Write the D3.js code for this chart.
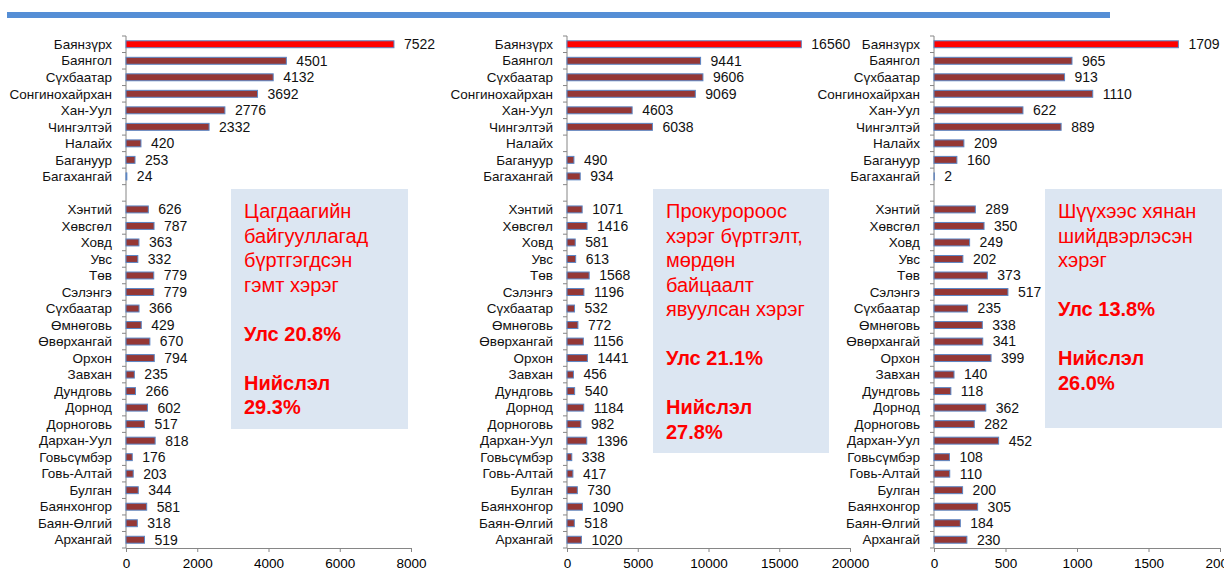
<!DOCTYPE html>
<html>
<head>
<meta charset="utf-8">
<script src="https://cdn.jsdelivr.net/npm/d3@7"></script>
<style>
  body { margin: 0; background: #fff; }
  svg { display: block; font-family: "Liberation Sans", Arial, sans-serif; }
</style>
</head>
<body>
<svg id="chart" width="1224" height="576"></svg>
<script>
// districts of the capital, a blank separator row, then the aimags
const categories = ["Баянзүрх", "Баянгол", "Сүхбаатар", "Сонгинохайрхан", "Хан-Уул", "Чингэлтэй",
  "Налайх", "Багануур", "Багахангай", "",
  "Хэнтий", "Хөвсгөл", "Ховд", "Увс", "Төв", "Сэлэнгэ", "Сүхбаатар", "Өмнөговь", "Өвөрхангай",
  "Орхон", "Завхан", "Дундговь", "Дорнод", "Дорноговь", "Дархан-Уул", "Говьсүмбэр", "Говь-Алтай",
  "Булган", "Баянхонгор", "Баян-Өлгий", "Архангай"];

const police = [7522, 4501, 4132, 3692, 2776, 2332, 420, 253, 24, null,
  626, 787, 363, 332, 779, 779, 366, 429, 670, 794, 235, 266, 602, 517, 818, 176, 203, 344, 581, 318, 519];

const prosecutor = [16560, 9441, 9606, 9069, 4603, 6038, null, 490, 934, null,
  1071, 1416, 581, 613, 1568, 1196, 532, 772, 1156, 1441, 456, 540, 1184, 982, 1396, 338, 417, 730, 1090, 518, 1020];

const court = [1709, 965, 913, 1110, 622, 889, 209, 160, 2, null,
  289, 350, 249, 202, 373, 517, 235, 338, 341, 399, 140, 118, 362, 282, 452, 108, 110, 200, 305, 184, 230];

const policeTicks = [0, 2000, 4000, 6000, 8000];
const prosecutorTicks = [0, 5000, 10000, 15000, 20000];
const courtTicks = [0, 500, 1000, 1500, 2000];

const policeNote = ["Цагдаагийн", "байгууллагад", "бүртгэгдсэн", "гэмт хэрэг", "", "Улс 20.8%", "", "Нийслэл", "29.3%"];
const prosecutorNote = ["Прокуророос", "хэрэг бүртгэлт,", "мөрдөн", "байцаалт", "явуулсан хэрэг", "", "Улс 21.1%", "", "Нийслэл", "27.8%"];
const courtNote = ["Шүүхээс хянан", "шийдвэрлэсэн", "хэрэг", "", "Улс 13.8%", "", "Нийслэл", "26.0%"];
const boldFrom = [5, 6, 4]; // first bold line of each note

const svg = d3.select("#chart");

// blue rule at the top
svg.append("rect").attr("x", 7).attr("y", 12).attr("width", 1103).attr("height", 6).attr("fill", "#558ED5");

const idx = d3.range(categories.length);
const y = d3.scaleBand().domain(idx).range([36, 548]).paddingInner(0.58).paddingOuter(0.29);
const step = y.step();

const panels = [
  {values: police, ticks: policeTicks, x0: 126, x1: 411, note: policeNote, box: [231, 189, 177, 240]},
  {values: prosecutor, ticks: prosecutorTicks, x0: 567, x1: 850, note: prosecutorNote, box: [653, 189, 176, 264]},
  {values: court, ticks: courtTicks, x0: 934, x1: 1220, note: courtNote, box: [1045, 189, 177, 239]}
];

panels.forEach((p, pi) => {
  const x = d3.scaleLinear().domain([0, d3.max(p.ticks)]).range([p.x0, p.x1]);
  const g = svg.append("g");

  // note box
  const [bx, by, bw, bh] = p.box;
  g.append("rect").attr("x", bx).attr("y", by).attr("width", bw).attr("height", bh).attr("fill", "#DCE6F2");
  g.append("g").selectAll("text")
    .data(p.note)
    .join("text")
      .attr("x", bx + 13)
      .attr("y", (d, i) => by + 22 + i * 24.5)
      .attr("dy", "0.35em")
      .attr("fill", "#FF0000")
      .style("font-size", "20px")
      .style("font-weight", (d, i) => i >= boldFrom[pi] ? "bold" : "normal")
      .text(d => d);

  // x axis
  const xAxis = g.append("g")
    .attr("transform", `translate(0,548)`)
    .call(d3.axisBottom(x).tickValues(p.ticks).tickSize(4).tickPadding(6).tickFormat(d3.format("d")));
  xAxis.select(".domain").attr("stroke", "#868686");
  xAxis.selectAll(".tick line").attr("stroke", "#868686");
  xAxis.selectAll("text").style("font-size", "13.5px").attr("fill", "#000");

  // y axis line and boundary ticks
  g.append("line").attr("x1", p.x0).attr("x2", p.x0).attr("y1", 36).attr("y2", 548).attr("stroke", "#868686");
  g.append("g").selectAll("line")
    .data(d3.range(categories.length + 1))
    .join("line")
      .attr("x1", p.x0 - 4).attr("x2", p.x0)
      .attr("y1", k => 36 + k * step).attr("y2", k => 36 + k * step)
      .attr("stroke", "#868686");

  // category labels
  g.append("g").selectAll("text")
    .data(idx)
    .join("text")
      .attr("x", p.x0 - 14)
      .attr("y", i => y(i) + y.bandwidth() / 2)
      .attr("dy", "0.35em")
      .attr("text-anchor", "end")
      .style("font-size", "13.5px")
      .attr("fill", "#111")
      .text(i => categories[i]);

  const rows = idx.filter(i => p.values[i] != null);

  // bars
  g.append("g").selectAll("rect")
    .data(rows)
    .join("rect")
      .attr("x", x(0))
      .attr("y", i => y(i))
      .attr("width", i => x(p.values[i]) - x(0))
      .attr("height", y.bandwidth())
      .attr("fill", i => i === 0 ? "#FF0000" : "#953735")
      .attr("stroke", "#5B86C5")
      .attr("stroke-width", 1);

  // value labels
  g.append("g").selectAll("text")
    .data(rows)
    .join("text")
      .attr("x", i => x(p.values[i]) + 10)
      .attr("y", i => y(i) + y.bandwidth() / 2)
      .attr("dy", "0.35em")
      .style("font-size", "14px")
      .attr("fill", "#111")
      .text(i => p.values[i]);
});
</script>
</body>
</html>
